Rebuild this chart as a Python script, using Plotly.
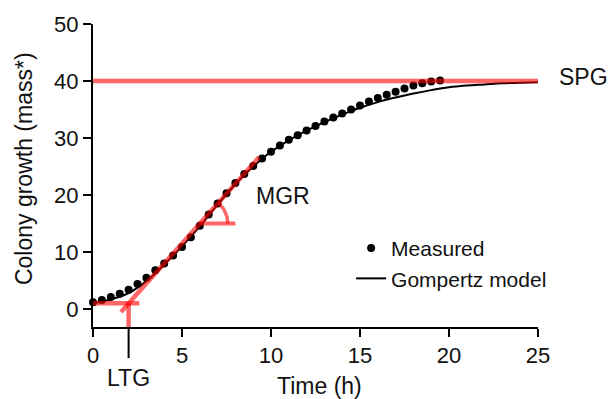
import math
import plotly.graph_objects as go

# ---- data ----
meas_t = [i * 0.5 for i in range(40)]
meas_y = [1.2, 1.6, 2.1, 2.7, 3.4, 4.4, 5.5, 6.8, 8.0, 9.4,
          10.9, 12.6, 14.6, 16.6, 18.5, 20.3, 22.1, 23.7, 25.1, 26.4,
          27.6, 28.7, 29.7, 30.5, 31.3, 32.1, 32.9, 33.6, 34.3, 35.0,
          35.7, 36.4, 37.0, 37.6, 38.1, 38.7, 39.2, 39.6, 39.9, 40.1]

model_t = list(range(26))
model_y = [1.0, 1.7, 2.8, 4.9, 7.8, 11.0, 14.5, 18.3, 21.9, 25.0,
           27.6, 29.6, 31.3, 32.8, 34.1, 35.3, 36.3, 37.1, 37.8, 38.4,
           38.9, 39.2, 39.4, 39.6, 39.7, 39.8]

# growth parameters (annotation geometry)
LTG = 2.0          # lag time
LAG_Y = 1.0        # initial level
MGR = 3.5          # max growth rate (slope)
SPG = 40.0         # stationary phase growth
TANGENT_X = [1.57, 9.33]
LAG_X_END = 2.6
ANGLE_Y = 15.0
ANGLE_LEN = 2.0

x_ticks = [0, 5, 10, 15, 20, 25]
y_ticks = [0, 10, 20, 30, 40, 50]
X_RANGE = [0, 25]
Y_RANGE = [-3.15, 50]

RED = "rgba(255,0,0,0.6)"
FONT = "Liberation Sans, Arial, sans-serif"
TXT = "#111"

W, H = 610, 399
ML, MR, MT, MB = 93, 72, 20, 72
pw, ph = W - ML - MR, H - MT - MB
sx = pw / (X_RANGE[1] - X_RANGE[0])
sy = ph / (Y_RANGE[1] - Y_RANGE[0])

fig = go.Figure()

fig.add_trace(go.Scatter(x=model_t, y=model_y, mode="lines", name="Gompertz model",
                         line=dict(color="black", width=2, shape="spline"),
                         legendrank=2))
fig.add_trace(go.Scatter(x=meas_t, y=meas_y, mode="markers", name="Measured",
                         marker=dict(color="black", size=8), cliponaxis=False,
                         legendrank=1))

def red_line(xs, ys, width=4.5):
    fig.add_trace(go.Scatter(x=xs, y=ys, mode="lines", showlegend=False,
                             hoverinfo="skip", line=dict(color=RED, width=width)))

# SPG
red_line([X_RANGE[0], X_RANGE[1]], [SPG, SPG])
# lag
red_line([0, LAG_X_END], [LAG_Y, LAG_Y])
red_line([LTG, LTG], [LAG_Y, Y_RANGE[0]])
# tangent (MGR)
red_line(TANGENT_X, [LAG_Y + MGR * (x - LTG) for x in TANGENT_X])
# angle marker
vx = LTG + (ANGLE_Y - LAG_Y) / MGR
red_line([vx, vx + ANGLE_LEN], [ANGLE_Y, ANGLE_Y], width=4)
theta = math.atan(MGR * sy / sx)
r_px = 28
n = 30
arc_x = [vx + r_px * math.cos(theta * i / n) / sx for i in range(n + 1)]
arc_y = [ANGLE_Y + r_px * math.sin(theta * i / n) / sy for i in range(n + 1)]
red_line(arc_x, arc_y, width=3.5)

axis_common = dict(showline=True, linecolor="black", linewidth=2, ticks="outside",
                   ticklen=8, tickwidth=2, tickcolor="black", showgrid=False,
                   zeroline=False, tickfont=dict(family=FONT, size=22, color=TXT))

def txt(size=23):
    return dict(size=size, family=FONT, color=TXT)

fig.update_layout(
    width=W, height=H,
    margin=dict(l=ML, r=MR, t=MT, b=MB),
    plot_bgcolor="white", paper_bgcolor="white",
    xaxis=dict(range=X_RANGE, tickvals=x_ticks, **axis_common),
    yaxis=dict(range=Y_RANGE, tickvals=y_ticks, **axis_common),
    legend=dict(x=0.58, y=0.327, xanchor="left", yanchor="top",
                font=txt(21), bgcolor="rgba(0,0,0,0)", tracegroupgap=0),
    font=dict(family=FONT, color=TXT),
    shapes=[dict(type="line", xref="x", yref="paper", x0=LTG, x1=LTG,
                 y0=0, y1=-31.5 / ph, line=dict(color="black", width=2))],
    annotations=[
        dict(text="Colony growth (mass*)", xref="paper", yref="paper", x=0,
             y=(MT + ph - 167) / ph, xshift=-69, xanchor="center", yanchor="middle",
             textangle=-90, showarrow=False, font=txt(23)),
        dict(text="Time (h)", xref="paper", yref="paper", x=0.5, xshift=4, y=0,
             yshift=-59, xanchor="center", yanchor="middle",
             showarrow=False, font=txt(23)),
        dict(text="LTG", xref="x", yref="paper", x=LTG, y=0, yshift=-51,
             xanchor="center", yanchor="middle", showarrow=False, font=txt(23)),
        dict(text="MGR", xref="x", yref="y", x=10.66, y=19.8,
             xanchor="center", yanchor="middle", showarrow=False, font=txt(23)),
        dict(text="SPG", xref="paper", yref="y", x=1, xshift=(26.07 - 25) * sx, y=40.7,
             xanchor="left", yanchor="middle", showarrow=False, font=txt(23)),
    ],
)

fig.write_html("out.html")
